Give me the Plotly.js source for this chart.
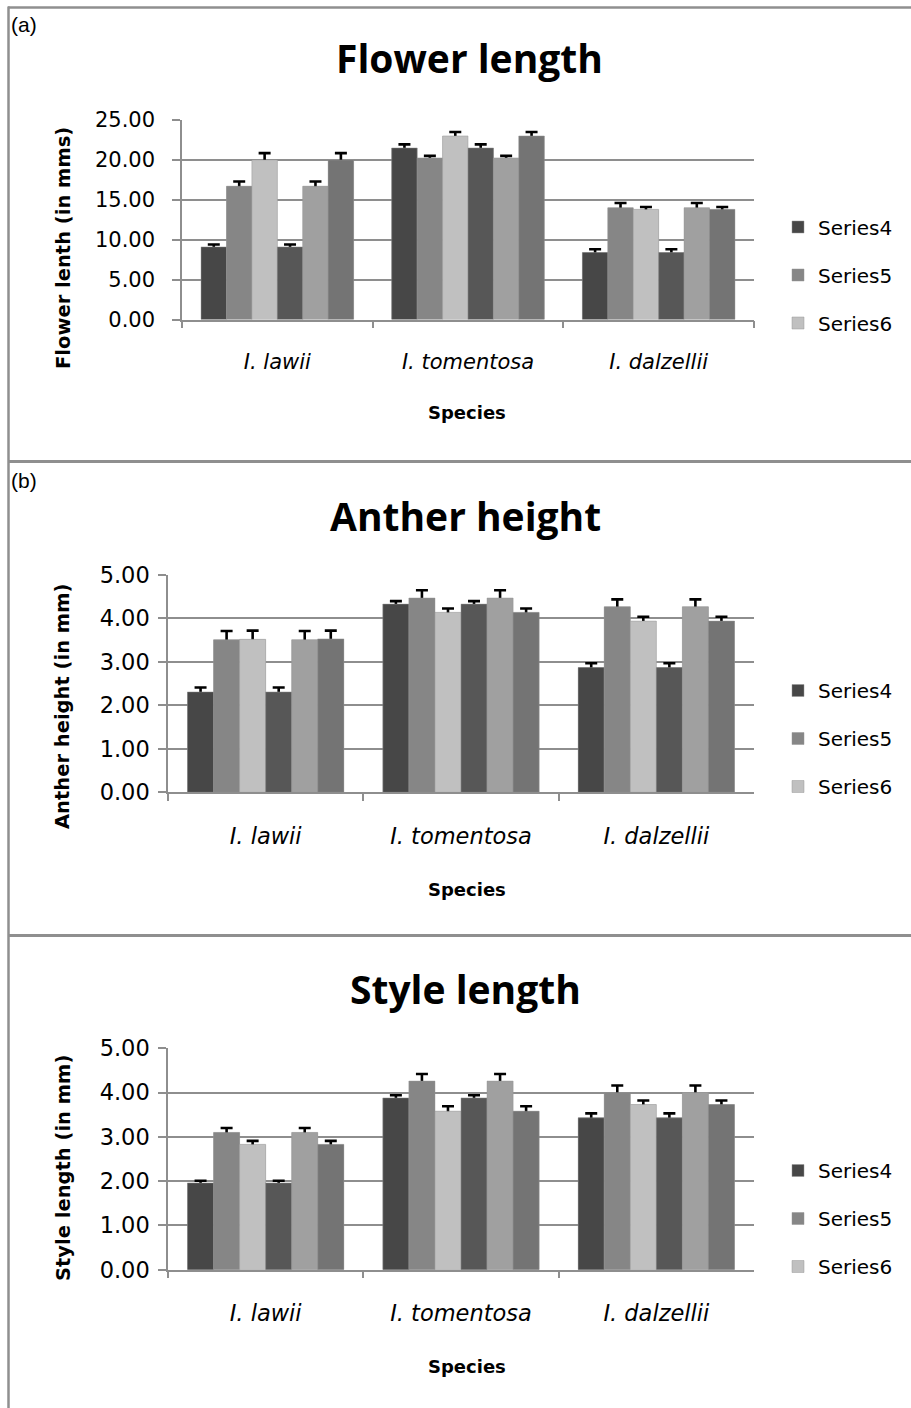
<!DOCTYPE html>
<html>
<head>
<meta charset="utf-8">
<script src="https://cdn.plot.ly/plotly-3.0.1.min.js"></script>
<style>html,body{margin:0;padding:0;background:#fff}#chart{width:911px;height:1408px}</style>
</head>
<body>
<div id="chart"></div>
<script>
// ---------- data ----------
const species = ['I. lawii', 'I. tomentosa', 'I. dalzellii'];
const legendNames = ['Series4', 'Series5', 'Series6'];
const hiddenNames = ['Series1', 'Series2', 'Series3'];

// (a) Flower length (mm)
const flower1 = [9.10, 21.50, 8.40];
const flower2 = [16.70, 20.25, 14.00];
const flower3 = [20.00, 23.00, 13.80];
const flower4 = [9.10, 21.50, 8.40];
const flower5 = [16.70, 20.25, 14.00];
const flower6 = [20.00, 23.00, 13.80];
const flowerErr1 = [0.30, 0.45, 0.40];
const flowerErr2 = [0.60, 0.25, 0.60];
const flowerErr3 = [0.85, 0.50, 0.30];
const flowerErr4 = [0.30, 0.45, 0.40];
const flowerErr5 = [0.60, 0.25, 0.60];
const flowerErr6 = [0.85, 0.50, 0.30];

// (b) Anther height (mm)
const anther1 = [2.31, 4.33, 2.87];
const anther2 = [3.51, 4.47, 4.27];
const anther3 = [3.52, 4.14, 3.94];
const anther4 = [2.31, 4.33, 2.87];
const anther5 = [3.51, 4.47, 4.27];
const anther6 = [3.53, 4.14, 3.94];
const antherErr1 = [0.10, 0.07, 0.10];
const antherErr2 = [0.20, 0.18, 0.17];
const antherErr3 = [0.20, 0.09, 0.10];
const antherErr4 = [0.10, 0.07, 0.10];
const antherErr5 = [0.20, 0.18, 0.17];
const antherErr6 = [0.19, 0.09, 0.10];

// (c) Style length (mm)
const style1 = [1.96, 3.88, 3.43];
const style2 = [3.10, 4.26, 4.00];
const style3 = [2.83, 3.58, 3.73];
const style4 = [1.96, 3.88, 3.43];
const style5 = [3.10, 4.26, 4.00];
const style6 = [2.83, 3.58, 3.73];
const styleErr1 = [0.05, 0.06, 0.10];
const styleErr2 = [0.10, 0.16, 0.16];
const styleErr3 = [0.08, 0.11, 0.09];
const styleErr4 = [0.05, 0.06, 0.10];
const styleErr5 = [0.10, 0.16, 0.16];
const styleErr6 = [0.08, 0.11, 0.09];

const panelTitles = ['Flower length', 'Anther height', 'Style length'];
const yTitles = ['Flower lenth (in mms)', 'Anther height (in mm)', 'Style length (in mm)'];
const xTitle = 'Species';
const panelLabels = ['(a)', '(b)'];

// ---------- styling ----------
const W = 911, H = 1408;
const px = v => v / W;
const py = v => 1 - v / H;
const barColors = ['#474747', '#868686', '#c0c0c0', '#575757', '#a0a0a0', '#747474'];
const FONT = 'DejaVu Sans';
const gridCol = '#8e8e8e';

const panels = [
  {vals: [flower1, flower2, flower3, flower4, flower5, flower6],
   errs: [flowerErr1, flowerErr2, flowerErr3, flowerErr4, flowerErr5, flowerErr6],
   xa: 'x', ya: 'y', lg: 'legend', range: [0, 25], dtick: 5},
  {vals: [anther1, anther2, anther3, anther4, anther5, anther6],
   errs: [antherErr1, antherErr2, antherErr3, antherErr4, antherErr5, antherErr6],
   xa: 'x2', ya: 'y2', lg: 'legend2', range: [0, 5], dtick: 1},
  {vals: [style1, style2, style3, style4, style5, style6],
   errs: [styleErr1, styleErr2, styleErr3, styleErr4, styleErr5, styleErr6],
   xa: 'x3', ya: 'y3', lg: 'legend3', range: [0, 5], dtick: 1}
];

// Each series is drawn as a bar carrying a symmetric error bar, then the same
// bar is drawn again in the same offset group on top, so only the "plus" half
// of the error bar stays visible (as in the original spreadsheet chart).
const traces = [];
panels.forEach((p, pi) => {
  for (let s = 0; s < 6; s++) {
    traces.push({
      type: 'bar', x: species, y: p.vals[s],
      name: s < 3 ? legendNames[s] : hiddenNames[s - 3],
      showlegend: false, legend: p.lg,
      offsetgroup: 'g' + s,
      xaxis: p.xa, yaxis: p.ya,
      marker: {color: barColors[s], line: {width: 0}},
      error_y: {type: 'data', symmetric: true, array: p.errs[s],
                color: '#000', thickness: 2.6, width: 6},
      hoverinfo: 'skip'
    });
  }
  for (let s = 0; s < 6; s++) {
    traces.push({
      type: 'bar', x: species, y: p.vals[s],
      name: s < 3 ? legendNames[s] : hiddenNames[s - 3],
      showlegend: s < 3, legend: p.lg,
      legendgroup: 'p' + pi + 's' + s,
      offsetgroup: 'g' + s,
      xaxis: p.xa, yaxis: p.ya,
      marker: {color: barColors[s], line: {color: 'rgba(150,150,150,0.6)', width: 0.8}},
      hoverinfo: 'x+y+name'
    });
  }
});

// geometry (pixels)
const geo = [
  {x0: 182, x1: 754, yTop: 120, yBot: 319.5},
  {x0: 168, x1: 754, yTop: 575, yBot: 792.3},
  {x0: 168, x1: 754, yTop: 1048.3, yBot: 1269.7}
];
const tickSize = [21, 22.5, 22.5];

function xaxisDef(g, fs) {
  return {
    domain: [px(g.x0), px(g.x1)],
    type: 'category',
    showline: true, linecolor: gridCol, linewidth: 1.5,
    ticks: 'outside', tickson: 'boundaries', ticklen: 7, tickcolor: gridCol, tickwidth: 1.5,
    tickfont: {family: FONT, size: fs, color: '#000', style: 'italic'},
    ticklabelstandoff: 23,
    showgrid: false, fixedrange: true
  };
}
function yaxisDef(g, p, standoff, fs) {
  return {
    domain: [py(g.yBot), py(g.yTop)],
    range: p.range, dtick: p.dtick, tick0: 0, tickformat: '.2f',
    showline: true, linecolor: gridCol, linewidth: 1.5,
    ticks: 'outside', ticklen: 8, tickcolor: gridCol, tickwidth: 1.5,
    showgrid: true, gridcolor: gridCol, gridwidth: 1.5, zeroline: false,
    tickfont: {family: FONT, size: fs, color: '#000'},
    ticklabelstandoff: standoff,
    fixedrange: true
  };
}

const legendCenters = [227.5, 691, 1171];
function legendDef(i) {
  return {
    x: px(778), xanchor: 'left',
    y: py(legendCenters[i] - 20), yanchor: 'top',
    font: {family: FONT, size: 20, color: '#000'},
    traceorder: 'grouped', tracegroupgap: 19,
    bgcolor: 'rgba(0,0,0,0)', borderwidth: 0
  };
}

const annotations = [];
const titleY = [57, 515, 988];
const titleX = [469, 466, 466];
const yTitleC = [248, 707, 1168];
const speciesY = [412, 889, 1366];
for (let i = 0; i < 3; i++) {
  annotations.push({text: '<b>' + panelTitles[i] + '</b>', xref: 'paper', yref: 'paper',
    x: px(titleX[i]), y: py(titleY[i]), xanchor: 'center', yanchor: 'middle', showarrow: false,
    font: {family: 'Open Sans', size: 39, color: '#000'}});
  annotations.push({text: '<b>' + yTitles[i] + '</b>', xref: 'paper', yref: 'paper',
    x: px(63), y: py(yTitleC[i]), xanchor: 'center', yanchor: 'middle', showarrow: false,
    textangle: -90, font: {family: FONT, size: 19.5, color: '#000'}});
  annotations.push({text: '<b>' + xTitle + '</b>', xref: 'paper', yref: 'paper',
    x: px(467), y: py(speciesY[i]), xanchor: 'center', yanchor: 'middle', showarrow: false,
    font: {family: FONT, size: 18, color: '#000'}});
}
annotations.push({text: panelLabels[0], xref: 'paper', yref: 'paper', x: px(9), y: py(24),
  xanchor: 'left', yanchor: 'middle', showarrow: false,
  font: {family: 'Liberation Sans', size: 21, color: '#000'}});
annotations.push({text: panelLabels[1], xref: 'paper', yref: 'paper', x: px(9), y: py(481),
  xanchor: 'left', yanchor: 'middle', showarrow: false,
  font: {family: 'Liberation Sans', size: 21, color: '#000'}});

const frameCol = '#8f8f8f';
const shapes = [
  {type: 'line', xref: 'paper', yref: 'paper', x0: px(8), x1: 1, y0: py(7.5), y1: py(7.5), line: {color: frameCol, width: 2.5}},
  {type: 'line', xref: 'paper', yref: 'paper', x0: px(8.5), x1: px(8.5), y0: py(6.5), y1: 0, line: {color: frameCol, width: 2.5}},
  {type: 'line', xref: 'paper', yref: 'paper', x0: px(8), x1: 1, y0: py(461.5), y1: py(461.5), line: {color: frameCol, width: 3}},
  {type: 'line', xref: 'paper', yref: 'paper', x0: px(8), x1: 1, y0: py(935.5), y1: py(935.5), line: {color: frameCol, width: 3}}
];

const layout = {
  width: W, height: H, autosize: false,
  margin: {l: 0, r: 0, t: 0, b: 0, pad: 0},
  paper_bgcolor: '#fff', plot_bgcolor: '#fff',
  barmode: 'group', bargap: 0.2, bargroupgap: 0,
  font: {family: FONT, color: '#000'},
  xaxis: Object.assign(xaxisDef(geo[0], tickSize[0]), {anchor: 'y'}),
  yaxis: Object.assign(yaxisDef(geo[0], panels[0], 13, tickSize[0]), {anchor: 'x'}),
  xaxis2: Object.assign(xaxisDef(geo[1], tickSize[1]), {anchor: 'y2'}),
  yaxis2: Object.assign(yaxisDef(geo[1], panels[1], 4, tickSize[1]), {anchor: 'x2'}),
  xaxis3: Object.assign(xaxisDef(geo[2], tickSize[2]), {anchor: 'y3'}),
  yaxis3: Object.assign(yaxisDef(geo[2], panels[2], 4, tickSize[2]), {anchor: 'x3'}),
  legend: legendDef(0), legend2: legendDef(1), legend3: legendDef(2),
  annotations: annotations,
  shapes: shapes
};

Plotly.newPlot('chart', traces, layout, {displayModeBar: false});
</script>
</body>
</html>
